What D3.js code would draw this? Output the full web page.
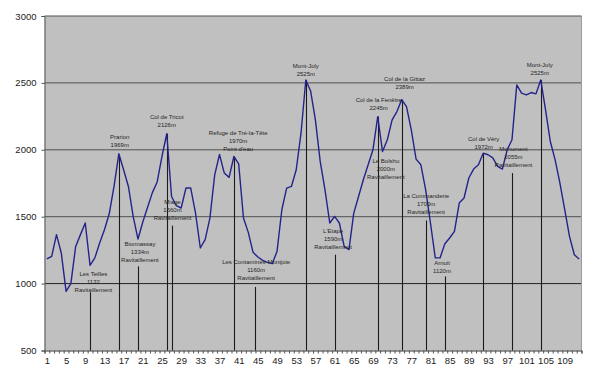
<!DOCTYPE html>
<html><head><meta charset="utf-8">
<script src="https://cdn.jsdelivr.net/npm/d3@7"></script>
<style>body{margin:0;background:#fff}svg{display:block}</style>
</head><body>
<script>
// ---- data ----
const elevation = [1184,1204,1366,1229,942,1000,1278,1366,1453,1136,
  1192,1304,1403,1522,1726,1970,1851,1726,1500,1333,
  1460,1570,1680,1760,1950,2120,1651,1582,1565,1714,
  1714,1527,1266,1328,1490,1813,1965,1826,1794,1950,
  1895,1490,1383,1234,1199,1174,1159,1149,1241,1552,
  1714,1726,1851,2124,2522,2440,2224,1913,1701,1453,
  1502,1453,1278,1254,1527,1651,1776,1888,2000,2248,
  1987,2075,2224,2286,2375,2323,2149,1930,1888,1701,
  1453,1192,1192,1298,1341,1390,1602,1640,1789,1856,
  1888,1975,1963,1940,1876,1856,2000,2075,2485,2423,
  2410,2428,2418,2522,2298,2062,1925,1751,1552,1353,
  1216,1184];
const categories = elevation.map((d,i)=>i+1);
const xTickLabels = d3.range(1,113,4);
const yTicks = [500,1000,1500,2000,2500,3000];

// drop lines (checkpoints)
const markCat = [10,16,20,26,27,40,44.5,55,61,70,75,80,84,92,98,104];
const markVal = [935,1960,1129,2120,1433,1950,975,2522,1216,2248,2375,1472,1054,1975,1826,2522];

// labels: anchor category, anchor value (first line), text lines
const labelCat = [10.7,16.2,20.4,26,27.2,40.9,44.65,55,60.7,70.2,75.6,71.7,80.1,83.4,92.1,98.3,103.8];
const labelVal = [1075,2099,1296,2244,1607,2124,1162,2629,1395,2373,2527,1920,1652,1154,2080,2005,2637];
const labelText = [
  ["Les Teilles","1132","Ravitaillement"],
  ["Prarion","1969m"],
  ["Bionnassay","1334m","Ravitaillement"],
  ["Col de Tricot","2126m"],
  ["Miage","1560m","Ravitaillement"],
  ["Refuge de Tré-la-Tête","1970m","Point d'eau"],
  ["Les Contamines-Montjoie","1160m","Ravitaillement"],
  ["Mont-Joly","2525m"],
  ["L'Etape","1590m","Ravitaillement"],
  ["Col de la Fenêtre","2245m"],
  ["Col de la Gittaz","2389m"],
  ["Le Bolshu","2000m","Ravitaillement"],
  ["La Commanderie","1700m","Ravitaillement"],
  ["Arnuit","1120m"],
  ["Col de Véry","1972m"],
  ["Monument","2055m","Ravitaillement"],
  ["Mont-Joly","2525m"]
];

// ---- layout ----
const W=600,H=374;
const L=44.5,R=581.5,T=16,B=350.5;
const svg=d3.select("body").append("svg").attr("width",W).attr("height",H);
const x=d3.scaleLinear().domain([0.5,categories.length+0.5]).range([L,R]);
const y=d3.scaleLinear().domain([500,3000]).range([B,T]);

svg.append("rect").attr("x",L).attr("y",T).attr("width",R-L).attr("height",B-T).attr("fill","#c0c0c0");

// gridlines
svg.append("g").selectAll("line").data(yTicks.filter(d=>d>500)).join("line")
  .attr("x1",L).attr("x2",R).attr("y1",d=>y(d)).attr("y2",d=>y(d))
  .attr("stroke",d=>d===1000?"#222":"#505050").attr("stroke-width",1);
svg.append("line").attr("x1",R).attr("x2",R).attr("y1",T).attr("y2",B).attr("stroke","#9a9a9a");

// drop lines
svg.append("g").selectAll("line").data(markCat).join("line")
  .attr("x1",d=>Math.round(x(d))+0.5).attr("x2",d=>Math.round(x(d))+0.5)
  .attr("y1",B).attr("y2",(d,i)=>y(markVal[i]))
  .attr("stroke","#1a1a1a").attr("stroke-width",1.1);

// profile line
svg.append("path").datum(elevation)
  .attr("d",d3.line().x((d,i)=>x(categories[i])).y(d=>y(d)))
  .attr("fill","none").attr("stroke","#23238c").attr("stroke-width",1.4).attr("stroke-linejoin","round");

// labels
const lg=svg.append("g").attr("font-family","Liberation Sans, Arial, sans-serif").attr("font-size","6px").attr("fill","#262626").attr("text-anchor","middle");
labelText.forEach((lines,i)=>{
  const t=lg.append("text").attr("x",x(labelCat[i])).attr("y",y(labelVal[i])+2);
  lines.forEach((s,j)=>t.append("tspan").attr("x",x(labelCat[i])).attr("dy",j?8:0).text(s));
});

// y axis
const ya=svg.append("g").attr("transform",`translate(${L},0)`)
  .call(d3.axisLeft(y).tickValues(yTicks).tickSize(3).tickPadding(5).tickFormat(d3.format("d")));
ya.select(".domain").attr("stroke","#555");
ya.selectAll("line").attr("stroke","#555");
ya.selectAll("text").attr("font-family","Liberation Sans, Arial, sans-serif").attr("font-size","9.5px").attr("fill","#222");

// x axis: boundary tick marks
const xb=svg.append("g").attr("transform",`translate(0,${B})`)
  .call(d3.axisBottom(x).tickValues(d3.range(0.5,categories.length+1,1)).tickSize(3).tickFormat(""));
xb.select(".domain").attr("stroke","#333");
xb.selectAll("line").attr("stroke","#555");
// x axis labels
const xl=svg.append("g").attr("transform",`translate(0,${B})`)
  .call(d3.axisBottom(x).tickValues(xTickLabels).tickSize(0).tickPadding(7).tickFormat(d3.format("d")));
xl.select(".domain").remove();
xl.selectAll("text").attr("font-family","Liberation Sans, Arial, sans-serif").attr("font-size","9.5px").attr("fill","#222");
</script>
</body></html>
